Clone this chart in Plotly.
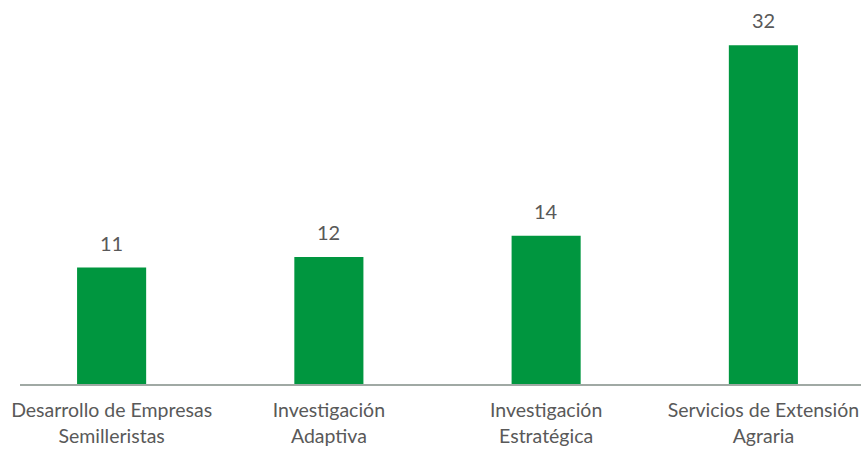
import plotly.graph_objects as go

categories = ["Desarrollo de Empresas<br>Semilleristas", "Investigación<br>Adaptiva",
              "Investigación<br>Estratégica", "Servicios de Extensión<br>Agraria"]
values = [11, 12, 14, 32]

bar_color = "#00963F"
text_color = "#595959"
font_family = "Lato, Calibri, Carlito, sans-serif"

fig = go.Figure()
fig.add_trace(go.Bar(
    x=list(range(len(categories))), y=values,
    marker=dict(color=bar_color, line=dict(width=0)),
    width=0.318, hoverinfo="skip",
))

for i, v in enumerate(values):
    fig.add_annotation(x=i, y=v, text=str(v), showarrow=False,
                       yanchor="bottom", yshift=11,
                       font=dict(family=font_family, size=20, color=text_color))

fig.update_layout(
    width=861, height=450,
    margin=dict(l=20, r=0, t=24, b=66),
    paper_bgcolor="white", plot_bgcolor="white",
    showlegend=False,
    font=dict(family=font_family, size=19.5, color=text_color),
    xaxis=dict(
        range=[-0.4217, 3.4493], automargin=False,
        tickmode="array", tickvals=list(range(len(categories))), ticktext=categories,
        showline=True, linecolor="#A0A9A4", linewidth=2,
        showgrid=False, zeroline=False, ticks="", ticklabelstandoff=8,
        tickfont=dict(family=font_family, size=19.5, color=text_color),
    ),
    yaxis=dict(range=[0, 34], visible=False, showgrid=False, zeroline=False, automargin=False),
)

# remove the default page margin so the figure fills the window exactly
fig.write_html("out.html",
               config={"displayModeBar": False, "staticPlot": True},
               post_script="document.body.style.margin='0';document.body.style.overflow='hidden';")
